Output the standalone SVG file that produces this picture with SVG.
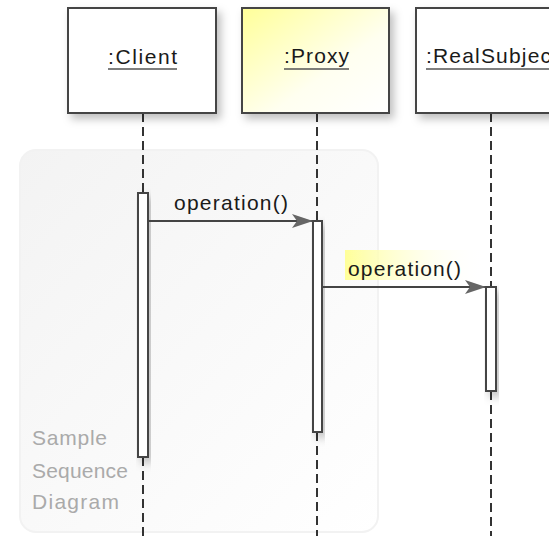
<svg xmlns="http://www.w3.org/2000/svg" width="549" height="536" viewBox="0 0 549 536">
<style>
.lbl{font-family:"Liberation Sans",Arial,sans-serif;font-size:21px;fill:#1a1a1a}
.box{stroke:#444;stroke-width:2}
.life{stroke:#333;stroke-width:2;stroke-dasharray:9 5;fill:none}
.act{fill:#fff;stroke:#444;stroke-width:2}
.msg{stroke:#444;stroke-width:2;fill:none}
.ul{stroke:#555;stroke-width:1.5}
.note{font-family:"Liberation Sans",Arial,sans-serif;font-size:21px;fill:#aaa}
</style>
<defs>
<linearGradient id="frameG" x1="0" y1="0" x2="1" y2="1">
<stop offset="0" stop-color="#f3f3f3"/><stop offset="1" stop-color="#ffffff"/>
</linearGradient>
<linearGradient id="proxyG" x1="0" y1="0" x2="1" y2="1">
<stop offset="0" stop-color="#ffff99"/><stop offset="0.6" stop-color="#fffff0"/><stop offset="1" stop-color="#ffffff"/>
</linearGradient>
<linearGradient id="hlG" x1="0" y1="0" x2="1" y2="0">
<stop offset="0" stop-color="#ffff99"/><stop offset="1" stop-color="#ffffff" stop-opacity="0"/>
</linearGradient>
<filter id="sh" x="-20%" y="-20%" width="150%" height="150%">
<feDropShadow dx="4" dy="5" stdDeviation="4" flood-color="#000" flood-opacity="0.25"/>
</filter>
<marker id="ah" markerWidth="22" markerHeight="14" refX="21" refY="7" orient="auto" markerUnits="userSpaceOnUse">
<path d="M0,0 L21,7 L0,14 L5,7 Z" fill="#666"/>
</marker>
</defs>
<rect width="549" height="536" fill="#fff"/>
<g id="frame">
<rect x="20" y="150" width="358" height="382" rx="16" fill="url(#frameG)" stroke="#f2f2f2" stroke-width="2"/>
<text class="note" x="32" y="445" textLength="75">Sample</text>
<text class="note" x="32" y="478" textLength="96">Sequence</text>
<text class="note" x="32" y="509" textLength="87">Diagram</text>
</g>
<g id="lifelines">
<line class="life" x1="143" y1="113" x2="143" y2="193"/>
<line class="life" x1="143" y1="457" x2="143" y2="536"/>
<line class="life" x1="317" y1="113" x2="317" y2="221"/>
<line class="life" x1="317" y1="432" x2="317" y2="536"/>
<line class="life" x1="491" y1="113" x2="491" y2="287"/>
<line class="life" x1="491" y1="391" x2="491" y2="536"/>
</g>
<g id="client">
<rect class="box" x="68" y="8" width="148" height="105" fill="#fff" filter="url(#sh)"/>
<text class="lbl" x="108" y="64" textLength="69">:Client</text>
<line class="ul" x1="108" y1="69" x2="177" y2="69"/>
<rect class="act" x="138" y="193" width="10" height="264" filter="url(#sh)"/>
</g>
<g id="proxy">
<rect class="box" x="242" y="8" width="147" height="105" fill="url(#proxyG)" filter="url(#sh)"/>
<text class="lbl" x="284" y="63" textLength="65">:Proxy</text>
<line class="ul" x1="284" y1="69" x2="349" y2="69"/>
<rect class="act" x="313" y="221" width="9" height="211" filter="url(#sh)"/>
</g>
<g id="realsubject">
<rect class="box" x="416" y="8" width="150" height="105" fill="#fff" filter="url(#sh)"/>
<text class="lbl" x="426" y="63" textLength="132">:RealSubject</text>
<line class="ul" x1="426" y1="69" x2="558" y2="69"/>
<rect class="act" x="486" y="287" width="10" height="104" filter="url(#sh)"/>
</g>
<g id="connectors">
<line class="msg" x1="148" y1="221" x2="313" y2="221" marker-end="url(#ah)"/>
<text class="lbl" x="174" y="210" textLength="114">operation()</text>
<rect x="345" y="250" width="140" height="30" fill="url(#hlG)"/>
<line class="msg" x1="322" y1="287" x2="486" y2="287" marker-end="url(#ah)"/>
<text class="lbl" x="348" y="276" textLength="113">operation()</text>
</g>
</svg>
